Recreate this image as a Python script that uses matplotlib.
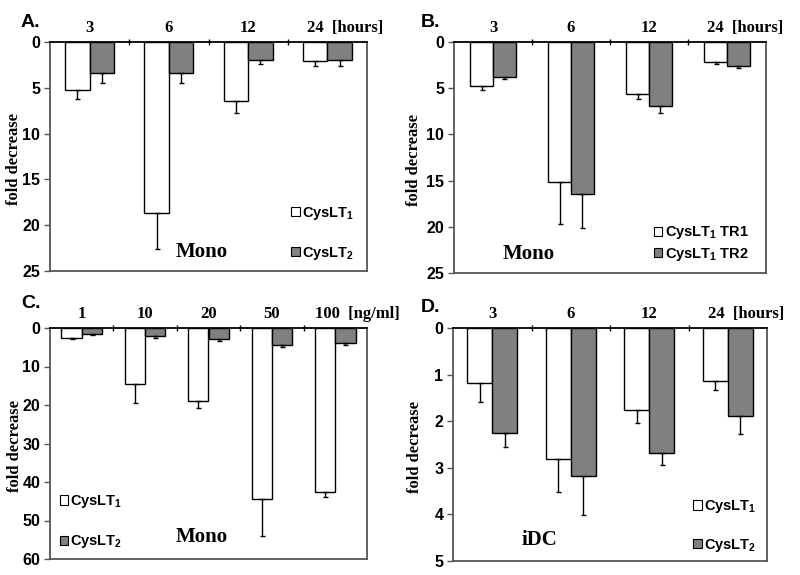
import numpy as np
import matplotlib
matplotlib.use("Agg")
import matplotlib.pyplot as plt
from matplotlib.transforms import ScaledTranslation

plt.rcParams['mathtext.default'] = 'regular'

# ---------------- data ----------------
hours = ["3", "6", "12", "24"]
conc = ["1", "10", "20", "50", "100"]

a_lt1 = [5.2, 18.7, 6.4, 2.1]
a_lt1_err = [1.05, 3.9, 1.35, 0.5]
a_lt2 = [3.4, 3.4, 2.0, 2.0]
a_lt2_err = [1.1, 1.1, 0.4, 0.6]

b_tr1 = [4.8, 15.15, 5.65, 2.2]
b_tr1_err = [0.35, 4.55, 0.5, 0.2]
b_tr2 = [3.8, 16.4, 6.9, 2.55]
b_tr2_err = [0.2, 3.7, 0.75, 0.25]

c_lt1 = [2.5, 14.5, 19.0, 44.5, 42.5]
c_lt1_err = [0.4, 5.0, 1.9, 9.5, 1.5]
c_lt2 = [1.5, 2.2, 2.9, 4.3, 3.8]
c_lt2_err = [0.4, 0.3, 0.4, 0.7, 0.7]

d_lt1 = [1.19, 2.81, 1.75, 1.13]
d_lt1_err = [0.40, 0.72, 0.28, 0.21]
d_lt2 = [2.26, 3.17, 2.69, 1.89]
d_lt2_err = [0.29, 0.84, 0.25, 0.38]

GRAY = "#808080"
SPINE = "#555555"

fig = plt.figure(figsize=(8, 5.75), dpi=100)


def px_axes(left, right, top, bottom):
    W, H = 800, 575
    return fig.add_axes([left / W, 1 - bottom / H, (right - left) / W, (bottom - top) / H])


def panel(ax, cats, v1, e1, v2, e2, lab1, lab2, ymax, ystep, unit, letter,
          tag, tag_xy, leg_anchor, leg_spacing, ylab_x, bw=0.31):
    n = len(cats)
    x = np.arange(n) + 0.5
    zeros = np.zeros(n)
    ax.bar(x - bw / 2, v1, width=bw, color="white", edgecolor="black", lw=1.0,
           yerr=[zeros, e1], error_kw=dict(ecolor="black", elinewidth=1.0, capsize=1.8, capthick=1.0),
           label=lab1, zorder=2)
    ax.bar(x + bw / 2, v2, width=bw, color=GRAY, edgecolor="black", lw=1.0,
           yerr=[zeros, e2], error_kw=dict(ecolor="black", elinewidth=1.0, capsize=1.8, capthick=1.0),
           label=lab2, zorder=2)
    ax.set_xlim(0, n)
    ax.set_ylim(ymax, 0)
    ax.set_yticks(np.arange(0, ymax + 0.001, ystep))
    ax.set_yticklabels([f"{t:g}" for t in np.arange(0, ymax + 0.001, ystep)],
                       fontfamily="Liberation Sans", fontweight="bold", fontsize=11.5)
    ax.tick_params(axis="y", direction="out", length=4, width=1, color=SPINE, pad=3)
    ax.xaxis.tick_top()
    ax.set_xticks(x)
    labels = list(cats[:-1]) + [cats[-1] + "  " + unit]
    ax.set_xticklabels(labels, fontfamily="Liberation Serif", fontweight="bold", fontsize=12)
    ax.tick_params(axis="x", which="major", length=0, pad=4)
    ax.set_xticks(np.arange(1, n), minor=True)
    ax.tick_params(axis="x", which="minor", direction="inout", length=4, width=1, color="black", top=True, bottom=False)
    last = ax.get_xticklabels()[-1]
    last.set_horizontalalignment("left")
    last.set_transform(last.get_transform() + ScaledTranslation(-20 / 100, 0, fig.dpi_scale_trans))
    for s in ["left", "right", "bottom"]:
        ax.spines[s].set_color(SPINE)
        ax.spines[s].set_linewidth(1.3)
    ax.spines["top"].set_color("black")
    ax.spines["top"].set_linewidth(1.3)
    ax.set_ylabel("fold decrease", fontfamily="Liberation Serif", fontweight="bold", fontsize=12,
                  va="center")
    ax.yaxis.set_label_coords(ylab_x, 0.49)
    ax.text(tag_xy[0], tag_xy[1], tag, transform=ax.transAxes, ha="center", va="baseline",
            fontfamily="Liberation Serif", fontweight="bold", fontsize=15)
    fig.text(letter[1] / 800, 1 - letter[2] / 575, letter[0], ha="left", va="baseline",
             fontfamily="Liberation Sans", fontweight="bold", fontsize=14)
    leg = ax.legend(loc="upper left", bbox_to_anchor=leg_anchor, frameon=False,
                    handlelength=0.6, handleheight=0.6, handletextpad=0.15,
                    labelspacing=leg_spacing, borderpad=0, borderaxespad=0,
                    prop=dict(family="Liberation Sans", weight="bold", size=10.5))
    for h in leg.legend_handles:
        h.set_linewidth(0.8)


axA = px_axes(50, 367, 42, 271)
panel(axA, hours, a_lt1, a_lt1_err, a_lt2, a_lt2_err, "CysLT$_1$", "CysLT$_2$",
      25, 5, "[hours]", ("A.", 21, 27), "Mono", (0.48, 0.06), (0.76, 0.29), 1.6, -0.115)

axB = px_axes(454, 766, 42, 273)
panel(axB, hours, b_tr1, b_tr1_err, b_tr2, b_tr2_err, "CysLT$_1$ TR1", "CysLT$_1$ TR2",
      25, 5, "[hours]", ("B.", 421, 27), "Mono", (0.24, 0.06), (0.64, 0.21), 0.3, -0.128, bw=0.29)

axC = px_axes(50, 367, 328, 559)
panel(axC, conc, c_lt1, c_lt1_err, c_lt2, c_lt2_err, "CysLT$_1$", "CysLT$_2$",
      60, 10, "[ng/ml]", ("C.", 21, 308), "Mono", (0.48, 0.075), (0.03, 0.285), 1.6, -0.11, bw=0.32)

axD = px_axes(453, 767, 328, 561)
panel(axD, hours, d_lt1, d_lt1_err, d_lt2, d_lt2_err, "CysLT$_1$", "CysLT$_2$",
      5, 1, "[hours]", ("D.", 421, 312), "iDC", (0.275, 0.07), (0.765, 0.27), 1.5, -0.12, bw=0.32)

fig.savefig("out.png", dpi=100)
